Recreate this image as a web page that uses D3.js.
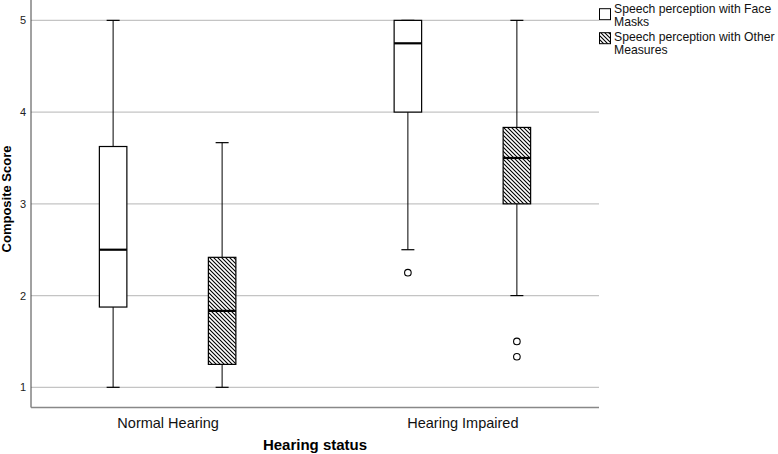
<!DOCTYPE html>
<html><head><meta charset="utf-8">
<script src="https://cdn.jsdelivr.net/npm/d3@7"></script>
<style>body{margin:0;background:#fff}svg{display:block;font-family:"Liberation Sans",Arial,sans-serif}</style>
</head><body>
<svg id="c" width="778" height="454"></svg>
<script>
const groups = ["Normal Hearing", "Hearing Impaired"];
const seriesNames = ["Speech perception with Face Masks", "Speech perception with Other Measures"];
// [min whisker, Q1, median, Q3, max whisker] per group, per series
const faceMasks = [[1, 1.875, 2.5, 3.625, 5], [2.5, 4, 4.75, 5, 5]];
const otherMeasures = [[1, 1.25, 1.833, 2.417, 3.667], [2, 3, 3.5, 3.833, 5]];
const faceOutliers = [[], [2.25]];
const otherOutliers = [[], [1.5, 1.333]];
const yTicks = [1, 2, 3, 4, 5];

const svg = d3.select("#c");
const L = 31, R = 599, T = 0, B = 407.5;
const y = d3.scaleLinear().domain([0.78, 5.222]).range([B, T]);
const x = d3.scalePoint().domain(groups).range([L, R]).padding(0.4635);
const off = d3.scalePoint().domain(seriesNames).range([-54.5, 54.5]);
const bw = 27.5, cap = 13;

const defs = svg.append("defs");
const pat = defs.append("pattern").attr("id", "hatch").attr("patternUnits", "userSpaceOnUse")
  .attr("width", 4).attr("height", 4);
pat.append("rect").attr("width", 4).attr("height", 4).attr("fill", "#fff");
pat.append("path").attr("d", "M-1,-1 L5,5 M-1,3 L1,5 M3,-1 L5,1").attr("stroke", "#000").attr("stroke-width", 1.1);

// gridlines
svg.append("g").selectAll("line").data(yTicks).join("line")
  .attr("x1", L).attr("x2", R).attr("y1", d => y(d)).attr("y2", d => y(d))
  .attr("stroke", "#c4c4c4").attr("stroke-width", 1.2);

// axes
const ya = svg.append("g").attr("transform", `translate(${L},0)`)
  .call(d3.axisLeft(y).tickValues(yTicks).tickSize(0).tickPadding(5).tickFormat(d3.format("d")));
ya.select(".domain").remove();
ya.selectAll("text").attr("font-size", 11).attr("fill", "#222").attr("font-family", "Liberation Sans, Arial, sans-serif");
svg.append("line").attr("x1", L).attr("x2", L).attr("y1", T).attr("y2", B).attr("stroke", "#444").attr("stroke-width", 1);
const xa = svg.append("g").attr("transform", `translate(0,${B})`)
  .call(d3.axisBottom(x).tickSize(0).tickPadding(10));
xa.select(".domain").attr("stroke", "#888").attr("stroke-width", 1.6).attr("d", `M${L},0H${R}`);
xa.selectAll("text").attr("font-size", 14.5).attr("fill", "#111").attr("font-family", "Liberation Sans, Arial, sans-serif");

svg.append("text").attr("x", (L + R) / 2).attr("y", 450).attr("text-anchor", "middle")
  .attr("font-size", 15).attr("font-weight", "bold").text("Hearing status");
svg.append("text").attr("transform", `translate(10.5,199) rotate(-90)`).attr("text-anchor", "middle")
  .attr("font-size", 13).attr("font-weight", "bold").text("Composite Score");

function drawBoxes(stats, outliers, sname, fill) {
  const g = svg.append("g");
  stats.forEach((s, i) => {
    const cx = x(groups[i]) + off(sname);
    const [mn, q1, md, q3, mx] = s;
    g.append("line").attr("x1", cx).attr("x2", cx).attr("y1", y(mn)).attr("y2", y(q1)).attr("stroke", "#000");
    g.append("line").attr("x1", cx).attr("x2", cx).attr("y1", y(q3)).attr("y2", y(mx)).attr("stroke", "#000");
    [mn, mx].forEach(v => g.append("line").attr("x1", cx - cap / 2).attr("x2", cx + cap / 2)
      .attr("y1", y(v)).attr("y2", y(v)).attr("stroke", "#000").attr("stroke-width", 1.2));
    g.append("rect").attr("x", cx - bw / 2).attr("width", bw).attr("y", y(q3)).attr("height", y(q1) - y(q3))
      .attr("fill", fill).attr("stroke", "#000").attr("stroke-width", 1.2);
    g.append("line").attr("x1", cx - bw / 2).attr("x2", cx + bw / 2).attr("y1", y(md)).attr("y2", y(md))
      .attr("stroke", "#000").attr("stroke-width", 2.2);
    outliers[i].forEach(v => g.append("circle").attr("cx", cx).attr("cy", y(v)).attr("r", 3.3)
      .attr("fill", "#fff").attr("stroke", "#000").attr("stroke-width", 1.1));
  });
}
drawBoxes(faceMasks, faceOutliers, seriesNames[0], "#fff");
drawBoxes(otherMeasures, otherOutliers, seriesNames[1], "url(#hatch)");

// legend
const legLines = [["Speech perception with Face", "Masks"], ["Speech perception with Other", "Measures"]];
const fills = ["#fff", "url(#hatch)"];
legLines.forEach((lines, i) => {
  const top = 8.7 + i * 24;
  svg.append("rect").attr("x", 599.5).attr("y", top).attr("width", 11).attr("height", 11)
    .attr("fill", fills[i]).attr("stroke", "#000").attr("stroke-width", 1);
  const t = svg.append("text").attr("x", 614).attr("y", 12.5 + i * 28).attr("font-size", 12.2).attr("fill", "#111");
  lines.forEach((l, j) => t.append("tspan").attr("x", 614).attr("dy", j === 0 ? 0 : 13.7).text(l));
});
</script>
</body></html>
